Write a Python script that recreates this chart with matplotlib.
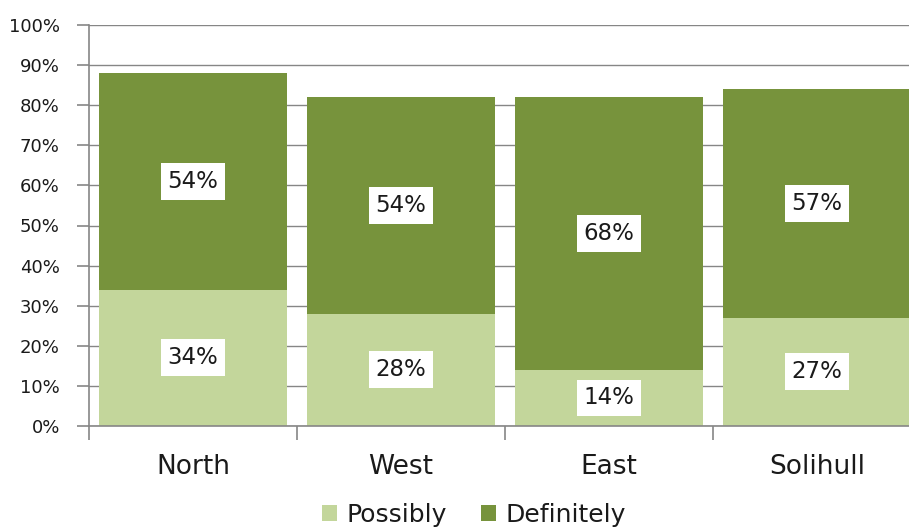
import matplotlib
matplotlib.use("Agg")
import matplotlib.pyplot as plt
from matplotlib.ticker import FixedLocator, FuncFormatter

categories = ["North", "West", "East", "Solihull"]
possibly = [34, 28, 14, 27]
definitely = [54, 54, 68, 57]
series_names = ["Possibly", "Definitely"]
yticks = list(range(0, 101, 10))

plt.rcParams['font.family'] = ['DejaVu Sans']

fig = plt.figure(figsize=(9.09, 5.29), dpi=100)
ax = fig.add_axes([89/909, (529-426)/529, 1 - 89/909, (426-25)/529])

light = "#C3D69B"
dark = "#77933C"
grid_c = "#868686"
text_c = "#1a1a1a"

x = list(range(len(categories)))
w = 188/208
b1 = ax.bar(x, possibly, width=w, color=light, label=series_names[0], zorder=2)
b2 = ax.bar(x, definitely, width=w, bottom=possibly, color=dark, label=series_names[1], zorder=2)

for i in x:
    for bottom, val in ((0, possibly[i]), (possibly[i], definitely[i])):
        ax.text(i, bottom + val/2, f"{val}%", ha="center", va="center", fontsize=16.5,
                color=text_c, zorder=3,
                bbox=dict(boxstyle="square,pad=0.3", fc="white", ec="none"))

ax.set_ylim(0, 100)
ax.set_xlim(-0.5, 3.5 - 12/208)
ax.yaxis.set_major_locator(FixedLocator(yticks))
ax.yaxis.set_major_formatter(FuncFormatter(lambda v, p: f"{int(v)}%"))
ax.grid(axis="y", color=grid_c, linewidth=1, zorder=0)
ax.set_axisbelow(True)

for s in ["top", "right"]:
    ax.spines[s].set_visible(False)
ax.spines["left"].set_color(grid_c)
ax.spines["bottom"].set_color(grid_c)
ax.spines["left"].set_linewidth(1.2)
ax.spines["bottom"].set_linewidth(1.2)

ax.tick_params(axis="y", length=9, color=grid_c, labelsize=13, pad=12, width=1.2,
               labelcolor=text_c)
ax.set_xticks(x)
ax.set_xticklabels(categories, fontsize=19, color=text_c)
ax.tick_params(axis="x", which="major", length=0, pad=20)
ax.set_xticks([-0.5, 0.5, 1.5, 2.5], minor=True)
ax.tick_params(axis="x", which="minor", length=10, color=grid_c, width=1.2)

leg = fig.legend(handles=[b1, b2], labels=series_names, loc="center",
                 bbox_to_anchor=(474/909, (529-515)/529), ncol=2, frameon=False,
                 fontsize=18, handlelength=0.6, handleheight=0.6, handletextpad=0.4,
                 columnspacing=1.35, labelcolor=text_c, borderaxespad=0, borderpad=0)

fig.savefig("out.png", dpi=100)
